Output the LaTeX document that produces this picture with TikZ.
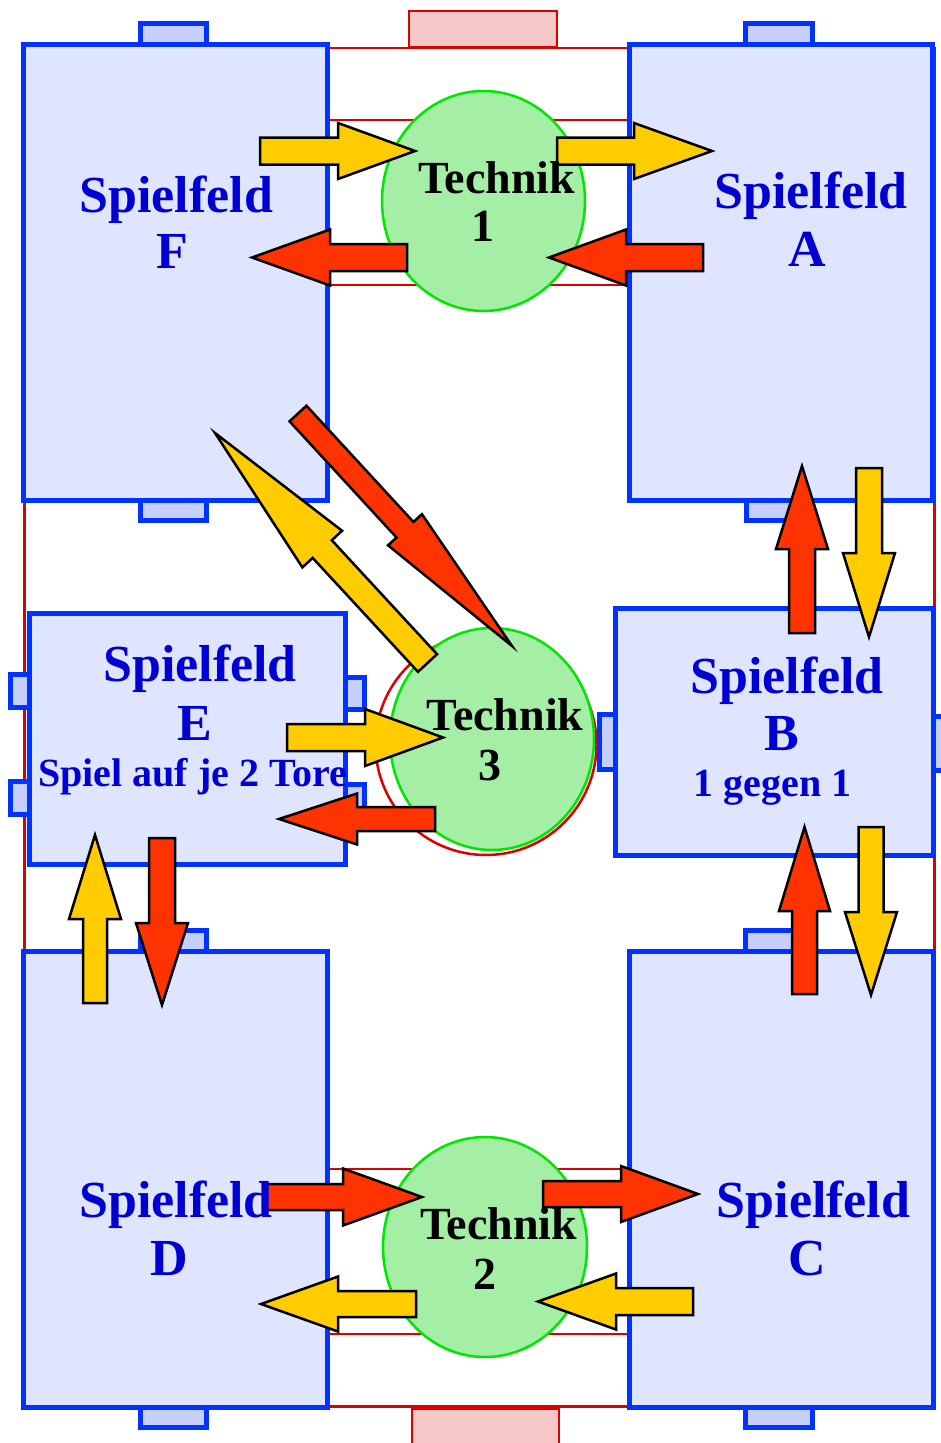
\documentclass[tikz,border=0pt]{standalone}
\usepackage{fontspec}
\setmainfont{Liberation Serif}
\usetikzlibrary{calc,shapes.geometric}
\definecolor{fieldfill}{RGB}{224,229,255}
\definecolor{goalfill}{RGB}{198,206,250}
\definecolor{fieldblue}{RGB}{0,51,255}
\definecolor{txtblue}{RGB}{0,0,210}
\definecolor{techfill}{RGB}{165,238,165}
\definecolor{techline}{RGB}{0,230,0}
\definecolor{pitchred}{RGB}{220,0,0}
\definecolor{redgoalfill}{RGB}{245,200,200}
\definecolor{arrYellow}{RGB}{255,204,0}
\definecolor{arrRed}{RGB}{255,51,0}
\tikzset{
  field/.style={rectangle, draw=fieldblue, line width=5pt, fill=fieldfill, inner sep=0pt},
  goalbox/.style={draw=fieldblue, line width=5pt, fill=goalfill},
  redline/.style={draw=pitchred, line width=2.5pt},
  redgoal/.style={draw=pitchred, line width=2.5pt, fill=redgoalfill},
  tech/.style={ellipse, draw=techline, line width=2.5pt, fill=techfill, inner sep=0pt},
  barrow/.style={draw=black, line width=2.5pt, line join=miter},
  lbl/.style={text=txtblue, font=\bfseries\fontsize{52}{52}\selectfont, inner sep=0pt, anchor=base},
  lblsmall/.style={text=txtblue, font=\bfseries\fontsize{40}{40}\selectfont, inner sep=0pt, anchor=base},
  techlbl/.style={text=black, font=\bfseries\fontsize{46}{46}\selectfont, inner sep=0pt, anchor=base},
}
% #1 tail, #2 tip, #3 shaft half width, #4 head half width, #5 head length, #6 fill
\newcommand{\blockarr}[6]{%
  \draw[barrow, fill=#6] let \p1=(#1), \p2=(#2),
     \n1={atan2(\y2-\y1,\x2-\x1)}, \n2={veclen(\x2-\x1,\y2-\y1)} in
    [shift={(\p1)}, rotate=\n1]
    (0pt,-#3pt) -- ({\n2-#5pt},-#3pt) -- ({\n2-#5pt},-#4pt) -- (\n2,0pt)
    -- ({\n2-#5pt},#4pt) -- ({\n2-#5pt},#3pt) -- (0pt,#3pt) -- cycle;
}
\begin{document}
\begin{tikzpicture}[x=1pt,y=-1pt]
\useasboundingbox (0,0) rectangle (940,1443);

% pitch outline and goals
\draw[redline] (24.5,48) rectangle (934.5,1406.5);
\draw[redgoal] (409,11) rectangle (557,47);
\draw[redgoal] (412,1409) rectangle (559,1446);
\draw[redline] (328,120) rectangle (628,285);
\draw[redline] (328,1169) rectangle (628,1334);

% small goals of the fields
\draw[goalbox] (140.5,23.5) rectangle (206.5,44);
\draw[goalbox] (140.5,500) rectangle (206.5,520.5);
\draw[goalbox] (745.5,23.5) rectangle (812.5,44);
\draw[goalbox] (746.5,500) rectangle (812.5,520.5);
\draw[goalbox] (10,674.5) rectangle (29,707.5);
\draw[goalbox] (10,781.5) rectangle (29,814.5);
\draw[goalbox] (345.5,677.5) rectangle (364.5,709.5);
\draw[goalbox] (345.5,784.5) rectangle (364.5,816.5);
\draw[goalbox] (599.5,714.5) rectangle (615.5,769.5);
\draw[goalbox] (933,716.5) rectangle (950,770.5);
\draw[goalbox] (140.5,930.5) rectangle (206.5,951.5);
\draw[goalbox] (140.5,1407.5) rectangle (206.5,1427.5);
\draw[goalbox] (745.5,930.5) rectangle (812.5,951.5);
\draw[goalbox] (745.5,1407.5) rectangle (812.5,1427.5);

% fields
\node[field, minimum width=304pt, minimum height=456pt] (F) at (175.5,272) {};
\node[field, minimum width=303.5pt, minimum height=456pt] (A) at (780.75,272) {};
\node[field, minimum width=316.5pt, minimum height=251pt] (E) at (187.25,739) {};
\node[field, minimum width=317.5pt, minimum height=247.5pt] (B) at (774.25,731.75) {};
\node[field, minimum width=304pt, minimum height=456pt] (D) at (175.5,1179.5) {};
\node[field, minimum width=304pt, minimum height=456pt] (C) at (781,1179.5) {};

% technique stations
\node[tech, minimum width=203pt, minimum height=220pt] (T1) at (483.5,201) {};
\node[ellipse, draw=pitchred, line width=2.5pt, fill=white, inner sep=0pt,
      minimum width=221pt, minimum height=221pt] (T3r) at (486,744.5) {};
\node[tech, minimum width=204pt, minimum height=222pt] (T3) at (492,739) {};
\node[tech, minimum width=204pt, minimum height=220pt] (T2) at (485,1247) {};

% arrow end points
\coordinate (a1s) at (260,151);    \coordinate (a1e) at (415,151);
\coordinate (a2s) at (407,257.5);  \coordinate (a2e) at (252,257.5);
\coordinate (a3s) at (557,151);    \coordinate (a3e) at (712,151);
\coordinate (a4s) at (703,257.5);  \coordinate (a4e) at (549,257.5);
\coordinate (a5s) at (287,737.5);  \coordinate (a5e) at (443,737.5);
\coordinate (a6s) at (435,819);    \coordinate (a6e) at (279,819);
\coordinate (a7s) at (266,1197);   \coordinate (a7e) at (422,1197);
\coordinate (a8s) at (416,1304);   \coordinate (a8e) at (261,1304);
\coordinate (a9s) at (543,1194);   \coordinate (a9e) at (698,1194);
\coordinate (a10s) at (693,1301.5);\coordinate (a10e) at (538,1301.5);
\coordinate (v1s) at (802,633);    \coordinate (v1e) at (802,466);
\coordinate (v2s) at (869,468);    \coordinate (v2e) at (869,637);
\coordinate (v3s) at (804.5,994);  \coordinate (v3e) at (804.5,827);
\coordinate (v4s) at (871,827);    \coordinate (v4e) at (871,995);
\coordinate (v5s) at (95,1003);    \coordinate (v5e) at (95,835);
\coordinate (v6s) at (162,838);    \coordinate (v6e) at (162,1005);
\coordinate (d1s) at (298,413.5);  \coordinate (d1e) at (512,646);
\coordinate (d2s) at (427.5,663);  \coordinate (d2e) at (215,433);

% arrows
\blockarr{a1s}{a1e}{13.5}{28}{77}{arrYellow}
\blockarr{a2s}{a2e}{13.5}{28}{78}{arrRed}
\blockarr{a3s}{a3e}{13.5}{28}{78}{arrYellow}
\blockarr{a4s}{a4e}{13.5}{28}{77}{arrRed}
\blockarr{a5s}{a5e}{13.5}{28.5}{78}{arrYellow}
\blockarr{a6s}{a6e}{12}{25.5}{78}{arrRed}
\blockarr{a7s}{a7e}{13}{28.5}{79}{arrRed}
\blockarr{a8s}{a8e}{13}{27.5}{77}{arrYellow}
\blockarr{a9s}{a9e}{13}{28}{77}{arrRed}
\blockarr{a10s}{a10e}{13.5}{28}{78}{arrYellow}
\blockarr{v1s}{v1e}{13}{26}{83}{arrRed}
\blockarr{v2s}{v2e}{13}{26}{84}{arrYellow}
\blockarr{v3s}{v3e}{12.5}{25.5}{84}{arrRed}
\blockarr{v4s}{v4e}{12.5}{26}{83}{arrYellow}
\blockarr{v5s}{v5e}{12}{26}{84}{arrYellow}
\blockarr{v6s}{v6e}{13}{26}{82}{arrRed}
\blockarr{d1s}{d1e}{11.5}{23}{158}{arrRed}
\blockarr{d2s}{d2e}{13}{27}{158}{arrYellow}

% labels
\node[lbl] (Ft) at (176.3,212) {Spielfeld};
\node[lbl] (Fl) at (172.5,268) {F};
\node[lbl] (At) at (811,208) {Spielfeld};
\node[lbl] (Al) at (807,266.5) {A};
\node[lbl] (Et) at (200,681.5) {Spielfeld};
\node[lbl] (El) at (195,740) {E};
\node[lblsmall] (Es) at (192.5,786.5) {Spiel auf je 2 Tore};
\node[lbl] (Bt) at (787,693) {Spielfeld};
\node[lbl] (Bl) at (782,750.5) {B};
\node[lblsmall] (Bs) at (772.5,796.5) {1 gegen 1};
\node[lbl] (Dt) at (176,1217) {Spielfeld};
\node[lbl] (Dl) at (169,1275) {D};
\node[lbl] (Ct) at (813.5,1217) {Spielfeld};
\node[lbl] (Cl) at (807,1275) {C};
\node[techlbl] (T1t) at (496.7,193) {Technik};
\node[techlbl] (T1n) at (483,241.5) {1};
\node[techlbl] (T3t) at (505,730) {Technik};
\node[techlbl] (T3n) at (490,780) {3};
\node[techlbl] (T2t) at (498.8,1239) {Technik};
\node[techlbl] (T2n) at (485,1289) {2};
\end{tikzpicture}
\end{document}
